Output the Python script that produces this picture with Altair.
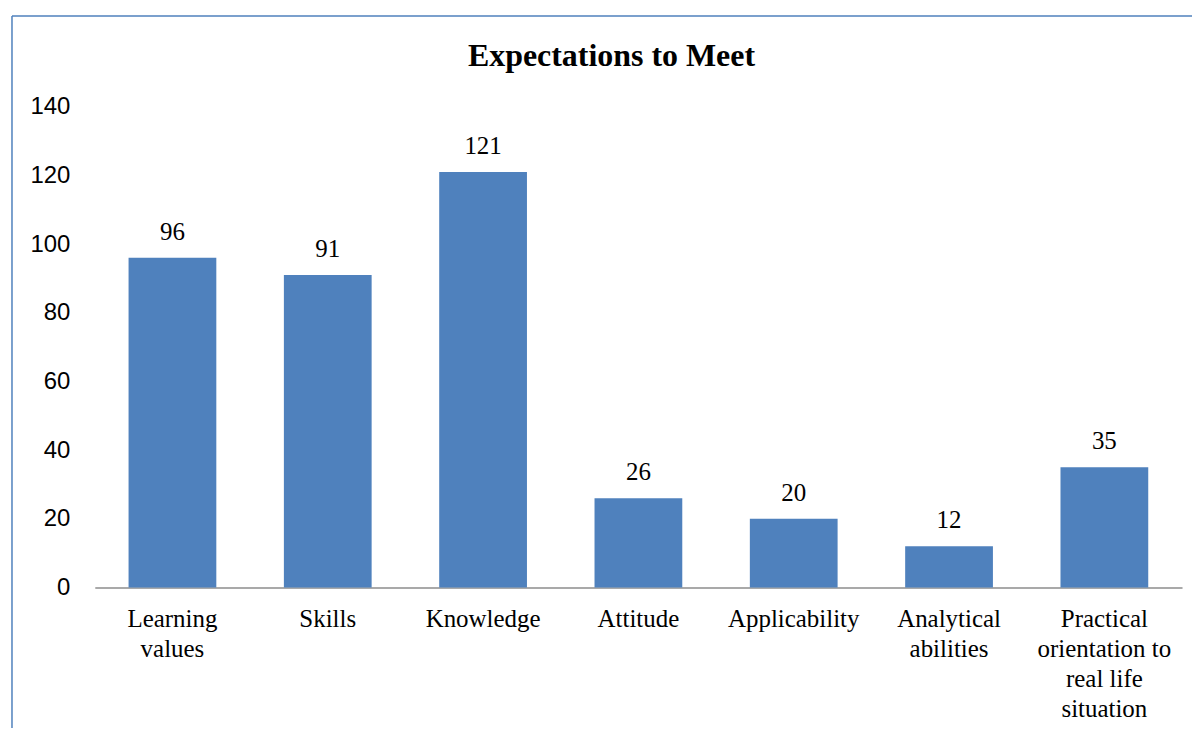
import altair as alt
import pandas as pd

categories = ["Learning values", "Skills", "Knowledge", "Attitude", "Applicability",
              "Analytical abilities", "Practical orientation to real life situation"]
values = [96, 91, 121, 26, 20, 12, 35]
label_lines = [["Learning", "values"], ["Skills"], ["Knowledge"], ["Attitude"], ["Applicability"],
               ["Analytical", "abilities"], ["Practical", "orientation to", "real life", "situation"]]
y_ticks = [0, 20, 40, 60, 80, 100, 120, 140]
title_text = "Expectations to Meet"

df = pd.DataFrame({"category": categories, "value": values})

# build label expression (multi-line labels)
expr = "datum.label"
for cat, lines in reversed(list(zip(categories, label_lines))):
    arr = "[" + ",".join("'" + l + "'" for l in lines) + "]"
    expr = f"datum.label == '{cat}' ? {arr} : ({expr})"

BLUE = "#4F81BD"
SERIF = "Liberation Serif"

x_enc = alt.X("category:N", sort=categories, title=None,
              scale=alt.Scale(paddingInner=0.435, paddingOuter=0.2175),
              axis=alt.Axis(labelExpr=expr, labelAngle=0, labelFont=SERIF, labelFontSize=25,
                            labelColor="#000000", labelLineHeight=30, labelLimit=0,
                            labelBaseline="top", labelPadding=19,
                            ticks=False, tickSize=0, domainColor="#8C8C8C", domainWidth=1.5,
                            grid=False))
y_enc = alt.Y("value:Q", title=None,
              scale=alt.Scale(domain=[0, 140], nice=False),
              axis=alt.Axis(values=y_ticks, labelFont="Liberation Sans", labelFontSize=24,
                            labelColor="#000000", labelPadding=25, ticks=False, tickSize=0,
                            domain=False, grid=False))

bars = alt.Chart(df).mark_bar(color=BLUE).encode(x=x_enc, y=y_enc)
labels = alt.Chart(df).mark_text(font=SERIF, fontSize=25, dy=-18, baseline="alphabetic",
                                 color="#000000").encode(
    x=alt.X("category:N", sort=categories), y="value:Q", text="value:Q")

title = alt.Chart(df.head(1)).mark_text(font=SERIF, fontSize=32, fontWeight="bold",
                                        color="#000000", baseline="middle", align="center").encode(
    x=alt.value(518), y=alt.value(-51), text=alt.value(title_text))

border_top = alt.Chart(df.head(1)).mark_rule(color=BLUE, strokeWidth=1.5).encode(
    x=alt.value(-83), x2=alt.value(1110), y=alt.value(-91))
border_left = alt.Chart(df.head(1)).mark_rule(color=BLUE, strokeWidth=1.5).encode(
    x=alt.value(-83), y=alt.value(-91), y2=alt.value(640))

chart = alt.layer(border_top, border_left, bars, labels, title).properties(
    width=1090, height=482,
    autosize=alt.AutoSizeParams(type="none"),
    padding={"left": 87, "top": 98, "right": 10, "bottom": 140},
    background="white",
).configure_view(stroke=None)

chart.save("out.html", embed_options={"renderer": "svg", "actions": False})
